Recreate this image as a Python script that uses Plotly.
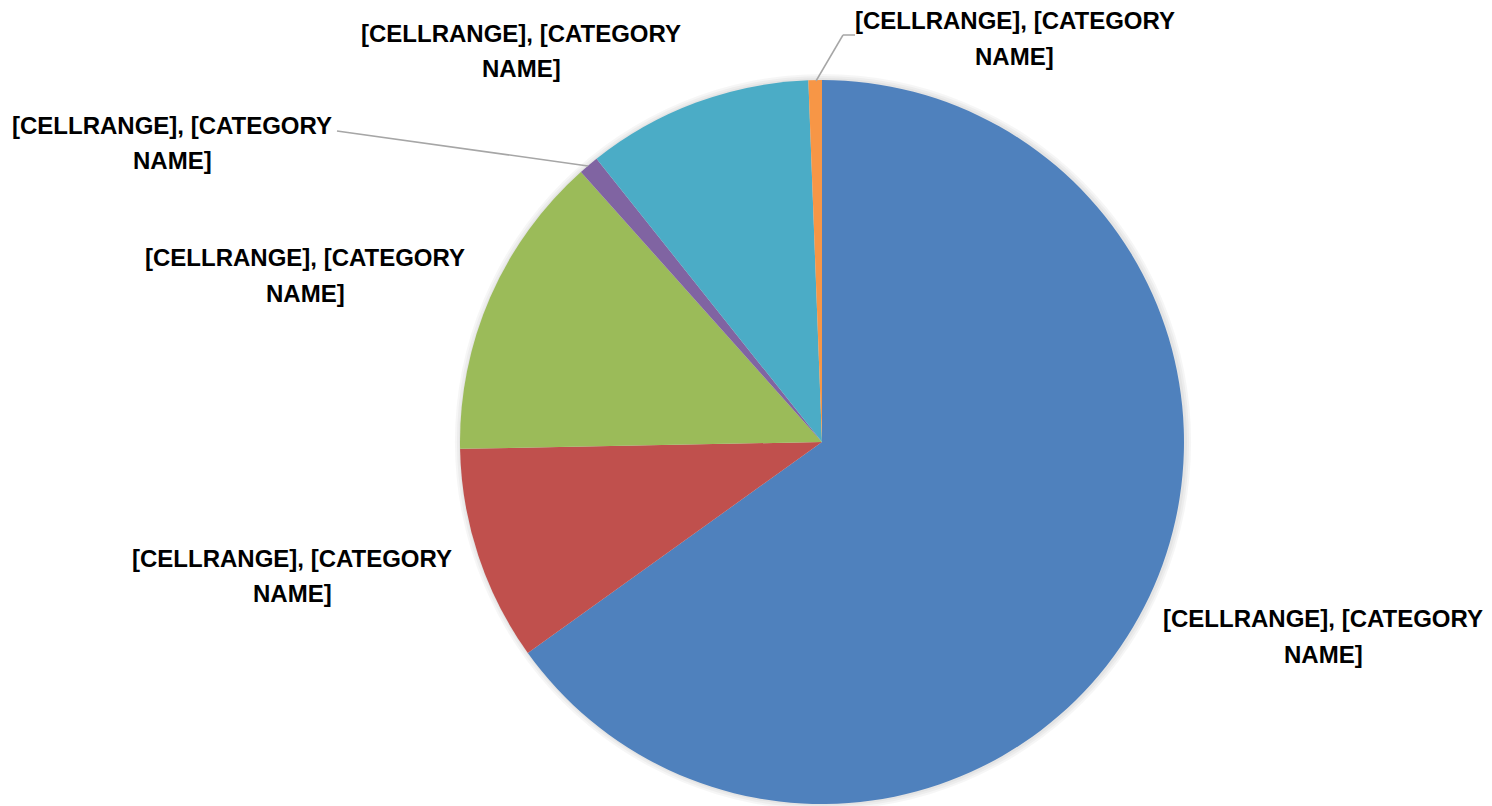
import plotly.graph_objects as go

W, H = 1492, 806
OFF = 8  # page body margin offset in pixels

categories = ["A", "B", "C", "D", "E", "F"]
values = [65.1, 9.6, 13.7, 0.9, 10.1, 0.6]
colors = ["#4F81BD", "#C0504D", "#9BBB59", "#8064A2", "#4BACC6", "#F79646"]
label_line1 = ["[CELLRANGE], [CATEGORY"] * 6
label_line2 = ["NAME]"] * 6

# label centre positions (pixels): x centre, y of line 1, y of line 2
label_pos = [(1323, 618, 654), (292, 558, 593), (305, 258, 293), (172, 126, 160),
             (521, 34, 69), (1015, 21, 56)]

cx, cy, r = 822, 442, 362


def px2x(px):
    return (px - OFF) / W


def px2y(py):
    return 1 - (py - OFF) / H


def dom(rad, dx=0, dy=0):
    y0 = max(0.0, px2y(cy + dy + rad))
    y1 = min(1.0, px2y(cy + dy - rad))
    return dict(x=[px2x(cx + dx - rad), px2x(cx + dx + rad)], y=[y0, y1])


fig = go.Figure()
# soft shadow layers
for rad, dy in [(368, 0), (366, 0), (364, 0)]:
    fig.add_trace(go.Pie(values=[1], marker=dict(colors=["#000000"]), opacity=0.035,
                         textinfo="none", hoverinfo="skip", showlegend=False,
                         domain=dom(rad, 1, dy), sort=False))

fig.add_trace(go.Pie(labels=categories, values=values, sort=False, direction="clockwise",
                     rotation=0, marker=dict(colors=colors, line=dict(width=0)),
                     textinfo="none", showlegend=False, domain=dom(r)))

font = dict(family="Liberation Sans, Arial, sans-serif", size=24, color="#000000")
for (px, py1, py2), t1, t2 in zip(label_pos, label_line1, label_line2):
    for py, t in [(py1, t1), (py2, t2)]:
        fig.add_annotation(x=px2x(px), y=px2y(py), xref="paper", yref="paper",
                           text="<b>" + t + "</b>", showarrow=False, font=font,
                           align="center", xanchor="center", yanchor="middle")

# leader lines
leaders = [
    [(337, 131), (588, 166)],
    [(855, 35), (843, 35), (816, 81)],
]
for pts in leaders:
    for (x0, y0), (x1, y1) in zip(pts[:-1], pts[1:]):
        fig.add_shape(type="line", xref="paper", yref="paper",
                      x0=px2x(x0), y0=px2y(y0), x1=px2x(x1), y1=px2y(y1),
                      line=dict(color="#A6A6A6", width=1.5))

fig.update_layout(width=W, height=H, margin=dict(l=0, r=0, t=0, b=0),
                  paper_bgcolor="white", plot_bgcolor="white")
fig.write_html("out.html")
